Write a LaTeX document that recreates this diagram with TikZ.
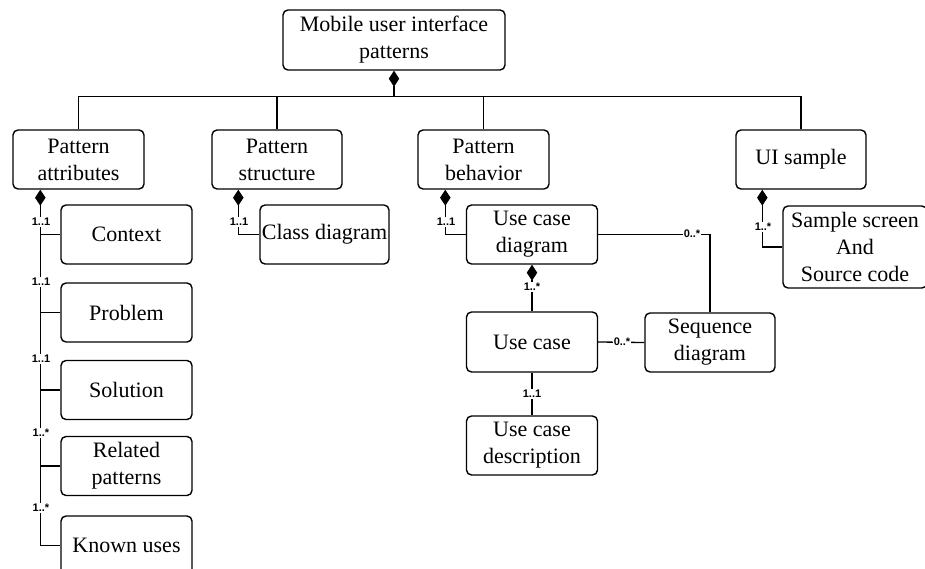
\documentclass[tikz,border=0pt]{standalone}
\usepackage{fontspec}
\setmainfont{Liberation Serif}
\newfontfamily\lblfont{Liberation Sans}
\usetikzlibrary{arrows.meta,calc}
\begin{document}
\begin{tikzpicture}[x=1pt,y=-1pt,
  box/.style={draw,line width=1.4pt,rounded corners=5pt,align=center,inner sep=0pt,
    minimum width=131pt,minimum height=59pt,font=\fontsize{22}{27}\selectfont},
  conn/.style={line width=1.3pt},
  comp/.style={conn,{Diamond[length=16pt,width=10.5pt]}-},
  mult/.style={fill=white,inner sep=1pt,font=\lblfont\bfseries\fontsize{11}{12}\selectfont}]
\useasboundingbox (0,0) rectangle (925,569);
\clip (0,0) rectangle (925,569);
% nodes
\node[box,minimum width=222pt,minimum height=60pt] (root) at (394,40) {Mobile user interface\\patterns};
\node[box] (PA) at (78.5,159.5) {Pattern\\attributes};
\node[box,minimum width=130pt] (PS) at (277,159.5) {Pattern\\structure};
\node[box] (PB) at (483.5,159.5) {Pattern\\behavior};
\node[box,minimum width=130pt] (UI) at (801,159.5) {UI sample};
\node[box] (Ctx) at (126.5,234.5) {Context};
\node[box] (Prob) at (126.5,312.5) {Problem};
\node[box] (Sol) at (126.5,390) {Solution};
\node[box] (Rel) at (126.5,466) {Related\\patterns};
\node[box] (Known) at (126.5,545.5) {Known uses};
\node[box,minimum width=129pt] (CD) at (324.5,234.5) {Class diagram};
\node[box] (UCD) at (532,234.5) {Use case\\diagram};
\node[box,minimum height=60pt] (UC) at (532,342) {Use case};
\node[box,minimum width=130pt] (Seq) at (710,342.5) {Sequence\\diagram};
\node[box] (UCDesc) at (532,445.5) {Use case\\description};
\node[box,minimum width=144pt,minimum height=82pt] (Sample) at (855,247) {Sample screen\\And\\Source code};
% root to level 1
\draw[comp] (root.south) -- ++(0,26) coordinate (bus);
\draw[conn] (PA.north) |- (bus) -| (UI.north);
\draw[conn] (PS.north) -- (PS.north |- bus);
\draw[conn] (PB.north) -- (PB.north |- bus);
% pattern attributes
\coordinate (trunk) at ($(PA.south west)+(28,0)$);
\draw[comp] (trunk) |- (Known.west);
\draw[conn] (Ctx.west) -- (Ctx.west -| trunk);
\draw[conn] (Prob.west) -- (Prob.west -| trunk);
\draw[conn] (Sol.west) -- (Sol.west -| trunk);
\draw[conn] (Rel.west) -- (Rel.west -| trunk);
\node[mult] (m1) at (41,222) {1..1};
\node[mult] (m2) at (41,282) {1..1};
\node[mult] (m3) at (41,359) {1..1};
\node[mult] (m4) at (41,433) {1..*};
\node[mult] (m5) at (41,508) {1..*};
% pattern structure
\draw[comp] ($(PS.south west)+(27,0)$) |- (CD.west);
\node[mult] (m6) at (239,222) {1..1};
% pattern behavior
\draw[comp] ($(PB.south west)+(28,0)$) |- (UCD.west);
\node[mult] (m7) at (446,222) {1..1};
\draw[comp] (UCD.south) -- (UC.north);
\node[mult] (m8) at (532,287) {1..*};
\draw[conn] (UC.south) -- (UCDesc.north);
\node[mult] (m9) at (532,394) {1..1};
\draw[conn] (UCD.east) -| (Seq.north);
\node[mult] (m10) at (692,234) {0..*};
\draw[conn] (UC.east) -- (Seq.west);
\node[mult] (m11) at (622,342) {0..*};
% UI sample
\draw[comp] ($(UI.south west)+(27,0)$) |- (Sample.west);
\node[mult] (m12) at (763,227) {1..*};
\end{tikzpicture}
\end{document}
